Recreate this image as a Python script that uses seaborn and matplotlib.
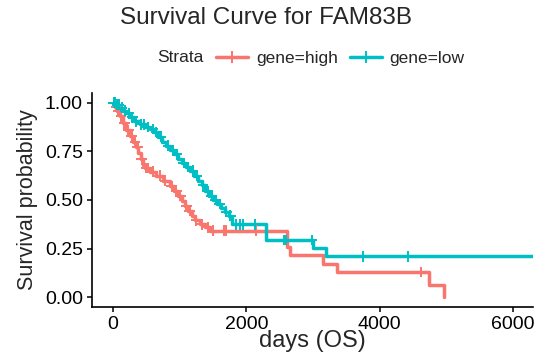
import numpy as np
import pandas as pd
import matplotlib
matplotlib.use("Agg")
import matplotlib.pyplot as plt
from matplotlib.lines import Line2D
import seaborn as sns

# Kaplan-Meier step values (days, survival probability) for each stratum
high_time = [0, 30, 60, 100, 150, 200, 250, 300, 340, 380, 420, 450, 480, 560, 650,
             750, 850, 920, 980, 1040, 1080, 1130, 1180, 1230, 1300, 1380, 1450,
             2610, 2655, 3155, 3355, 4740, 4965]
high_surv = [1.0, 0.98, 0.955, 0.93, 0.895, 0.86, 0.83, 0.80, 0.77, 0.74, 0.71, 0.68,
             0.665, 0.645, 0.625, 0.60, 0.57, 0.545, 0.52, 0.495, 0.47, 0.445, 0.42,
             0.395, 0.375, 0.36, 0.342, 0.26, 0.216, 0.173, 0.13, 0.062, 0.0]
high_censor = [20, 45, 80, 120, 170, 230, 280, 330, 370, 430, 500, 530, 600, 700, 780,
               880, 950, 1010, 1100, 1150, 1250, 1330, 1420, 1500, 1660, 1700, 2150, 4620]

low_time = [0, 50, 100, 150, 200, 260, 320, 400, 480, 560, 620, 680, 740, 800, 860,
            920, 980, 1040, 1100, 1160, 1220, 1280, 1330, 1380, 1440, 1500, 1560,
            1620, 1680, 1740, 1780, 2290, 3000, 3190, 6300]
low_surv = [1.0, 0.99, 0.975, 0.96, 0.945, 0.925, 0.905, 0.89, 0.875, 0.865, 0.85,
            0.825, 0.80, 0.78, 0.755, 0.735, 0.71, 0.69, 0.67, 0.65, 0.625, 0.60,
            0.575, 0.545, 0.52, 0.50, 0.48, 0.46, 0.44, 0.42, 0.375, 0.294, 0.254,
            0.211, 0.211]
low_censor = [10, 30, 60, 90, 130, 180, 240, 290, 350, 420, 460, 520, 600, 650, 720,
              830, 900, 960, 1060, 1130, 1200, 1260, 1350, 1420, 1480, 1540, 1600,
              1700, 1760, 1845, 1905, 1945, 2130, 2565, 2595, 2980, 3755, 4420]

groups = ["gene=high", "gene=low"]
colors = {"gene=high": "#F8766D", "gene=low": "#00BFC4"}


def surv_at(times, surv, t):
    idx = np.searchsorted(np.asarray(times), t, side="right") - 1
    return np.asarray(surv)[idx]


curves = pd.concat([
    pd.DataFrame({"days": high_time, "surv": high_surv, "Strata": groups[0]}),
    pd.DataFrame({"days": low_time, "surv": low_surv, "Strata": groups[1]}),
])
marks = pd.concat([
    pd.DataFrame({"days": high_censor, "surv": surv_at(high_time, high_surv, high_censor),
                  "Strata": groups[0]}),
    pd.DataFrame({"days": low_censor, "surv": surv_at(low_time, low_surv, low_censor),
                  "Strata": groups[1]}),
])

sns.set_style("white")
plt.rcParams["font.family"] = ["Liberation Sans", "DejaVu Sans"]

fig = plt.figure(figsize=(5.44, 3.56), dpi=100)
ax = fig.add_axes([92 / 544, 1 - 307 / 356, (533 - 92) / 544, (307 - 93) / 356])

sns.lineplot(data=curves, x="days", y="surv", hue="Strata", palette=colors,
             estimator=None, sort=False, drawstyle="steps-post", linewidth=2.5,
             legend=False, ax=ax)
sns.scatterplot(data=marks, x="days", y="surv", hue="Strata", palette=colors,
                marker="+", s=60, linewidth=1.4, legend=False, ax=ax, zorder=3)

ax.set_xlim(-315, 6300)
ax.set_ylim(-0.05, 1.05)
ax.set_xticks([0, 2000, 4000, 6000])
ax.set_yticks([0, 0.25, 0.5, 0.75, 1.0])
ax.set_yticklabels(["0.00", "0.25", "0.50", "0.75", "1.00"])
ax.tick_params(axis="both", labelsize=14, length=3.5, width=1.1, color="black",
               labelcolor="black", direction="out", pad=3)
ax.tick_params(axis="both", which="both", bottom=True, left=True)
for side in ["top", "right"]:
    ax.spines[side].set_visible(False)
for side in ["left", "bottom"]:
    ax.spines[side].set_color("black")
    ax.spines[side].set_linewidth(1.2)

ax.set_xlabel("")
ax.set_ylabel("Survival probability", fontsize=15.5, labelpad=5)
fig.text(312 / 544, 1 - 347 / 356, "days (OS)", fontsize=17, ha="center", va="baseline")

fig.text(266 / 544, 1 - 18 / 356, "Survival Curve for FAM83B", fontsize=17.5,
         ha="center", va="center")
fig.text(157 / 544, 1 - 58 / 356, "Strata", fontsize=12.5, ha="left", va="center")

handles = [Line2D([], [], color=colors[g], lw=2.5, marker="+", markersize=8,
                  markeredgewidth=1.4) for g in groups]
fig.legend(handles, groups, loc="center left", bbox_to_anchor=(216 / 544, 1 - 58 / 356),
           ncol=2, frameon=False, fontsize=12.5, handlelength=1.84, handletextpad=0.45,
           columnspacing=0.7, borderpad=0, borderaxespad=0)

fig.savefig("out.png", dpi=100)
